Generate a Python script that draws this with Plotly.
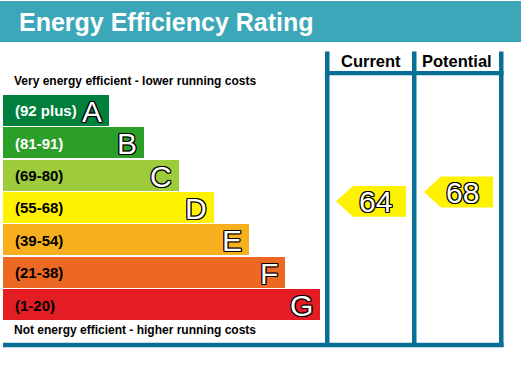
import plotly.graph_objects as go

# ---- data ----
band_letters = ["A", "B", "C", "D", "E", "F", "G"]
band_ranges = ["(92 plus)", "(81-91)", "(69-80)", "(55-68)", "(39-54)", "(21-38)", "(1-20)"]
band_colors = ["#007f3d", "#2c9f29", "#9dcb3c", "#fff200", "#f7af1d", "#ed6823", "#e31d23"]
range_text_colors = ["white", "white", "black", "black", "black", "black", "black"]
column_titles = ["Current", "Potential"]
ratings = [64, 68]
title_text = "Energy Efficiency Rating"
top_note = "Very energy efficient - lower running costs"
bottom_note = "Not energy efficient - higher running costs"

# ---- layout constants (pixels) ----
W, H = 522, 366
FONT = "Liberation Sans, Arial, sans-serif"
BLUE = "#0a6f97"
TEAL = "#3ca7b9"
OUTLINE = "-1px -1px 0 #000, 1px -1px 0 #000, -1px 1px 0 #000, 1px 1px 0 #000, 0 1px 0 #000, 0 -1px 0 #000, 1px 0 0 #000, -1px 0 0 #000"

bar_left = 3
bar_top_center = 110.4
bar_step = 32.35
bar_h = 31
first_len = 106
len_step = 35.1

centers = [bar_top_center + i * bar_step for i in range(len(band_letters))]
lengths = [first_len + i * len_step for i in range(len(band_letters))]

fig = go.Figure()

# Bands
fig.add_trace(go.Bar(
    orientation="h", y=centers, x=lengths, base=bar_left, width=bar_h,
    marker=dict(color=band_colors, line=dict(width=0)),
    hoverinfo="skip", showlegend=False,
))

annotations = []
for i, (lab, rng) in enumerate(zip(band_letters, band_ranges)):
    annotations.append(dict(
        x=13, y=centers[i] + 0.5, xref="x", yref="y", text="<b>" + rng + "</b>",
        showarrow=False, xanchor="left", yanchor="middle",
        font=dict(family=FONT, size=15, color=range_text_colors[i]),
    ))
    annotations.append(dict(
        x=bar_left + lengths[i] - 5, y=centers[i] + 1, xref="x", yref="y", text=lab,
        showarrow=False, xanchor="right", yanchor="middle",
        font=dict(family=FONT, size=30, color="white", shadow=OUTLINE),
    ))

# value axis (y2) mapping: pixel = 201.3 - (v - 64) * k
k = 2.325
v_top = 64 + 201.3 / k
v_bottom = 64 - (H - 201.3) / k
half = 15.4 / k

col_tip = [336, 424]
col_body = [353, 441]
col_right = [406, 493]
col_text_x = [375, 462]

for j, val in enumerate(ratings):
    xs = [col_tip[j], col_body[j], col_right[j], col_right[j], col_body[j], col_tip[j]]
    ys = [val, val + half, val + half, val - half, val - half, val]
    fig.add_trace(go.Scatter(
        x=xs, y=ys, yaxis="y2", mode="lines", fill="toself",
        fillcolor="#fff200", line=dict(width=0, color="#fff200"),
        hoverinfo="skip", showlegend=False,
    ))
    annotations.append(dict(
        x=col_text_x[j], y=val, xref="x", yref="y2", text=str(val),
        showarrow=False, xanchor="center", yanchor="middle",
        font=dict(family=FONT, size=30, color="white", shadow=OUTLINE),
    ))

# Title and notes
annotations.append(dict(
    x=17, y=21.5, xref="x", yref="y", text="<b>" + title_text + "</b>",
    showarrow=False, xanchor="left", yanchor="middle",
    font=dict(family=FONT, size=25, color="white"),
))
annotations.append(dict(
    x=12, y=81, xref="x", yref="y", text="<b>" + top_note + "</b>",
    showarrow=False, xanchor="left", yanchor="middle",
    font=dict(family=FONT, size=12, color="black"),
))
annotations.append(dict(
    x=12, y=330, xref="x", yref="y", text="<b>" + bottom_note + "</b>",
    showarrow=False, xanchor="left", yanchor="middle",
    font=dict(family=FONT, size=12, color="black"),
))
for cx, t in zip([370.8, 456.5], column_titles):
    annotations.append(dict(
        x=cx, y=61, xref="x", yref="y", text="<b>" + t + "</b>",
        showarrow=False, xanchor="center", yanchor="middle",
        font=dict(family=FONT, size=16.5, color="black"),
    ))

shapes = [
    dict(type="rect", xref="x", yref="y", x0=0, x1=521, y0=1, y1=42, fillcolor=TEAL, line=dict(width=0), layer="below"),
    dict(type="rect", xref="x", yref="y", x0=325, x1=329.5, y0=51.5, y1=347, fillcolor=BLUE, line=dict(width=0)),
    dict(type="rect", xref="x", yref="y", x0=412, x1=416.5, y0=51.5, y1=347, fillcolor=BLUE, line=dict(width=0)),
    dict(type="rect", xref="x", yref="y", x0=499, x1=503.5, y0=51.5, y1=347, fillcolor=BLUE, line=dict(width=0)),
    dict(type="rect", xref="x", yref="y", x0=325, x1=503.5, y0=71, y1=75.3, fillcolor=BLUE, line=dict(width=0)),
    dict(type="rect", xref="x", yref="y", x0=3, x1=503.5, y0=342.8, y1=347.2, fillcolor=BLUE, line=dict(width=0)),
]

fig.update_layout(
    width=W, height=H, margin=dict(l=0, r=0, t=0, b=0),
    paper_bgcolor="white", plot_bgcolor="white", template="none",
    xaxis=dict(range=[0, W], visible=False, fixedrange=True),
    yaxis=dict(range=[H, 0], visible=False, fixedrange=True),
    yaxis2=dict(range=[v_bottom, v_top], visible=False, overlaying="y", fixedrange=True),
    annotations=annotations, shapes=shapes, bargap=0, showlegend=False,
)

fig.write_html(
    "out.html",
    config={"displayModeBar": False},
    post_script="document.body.style.margin='0';document.body.style.overflow='hidden';",
)
